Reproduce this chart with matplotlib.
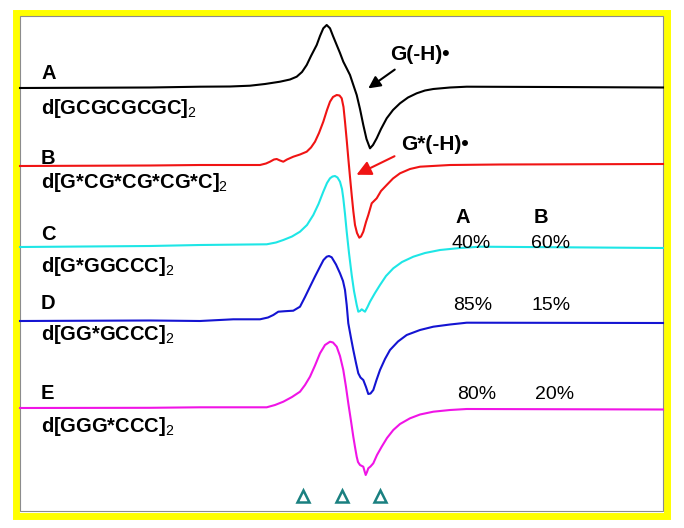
"""Stacked EPR spectra of guanine radicals in d[GC] oligomers."""

import matplotlib
matplotlib.use("Agg")
import matplotlib.pyplot as plt
from matplotlib.patches import Rectangle

plt.rcParams['font.family'] = ['Liberation Sans', 'DejaVu Sans']
plt.rcParams['mathtext.fontset'] = 'custom'
plt.rcParams['mathtext.rm'] = 'Liberation Sans'

# field positions (scan units) and first-derivative signal (up = positive)
FIELD_A = [20, 150, 200, 230, 250, 265, 280, 290, 296.7, 302, 306.7, 311, 316.7, 320,
           323.3, 326.7, 330, 333, 336.7, 340, 343.3, 346.5, 350, 353, 356.7, 360,
           363.3, 366.5, 370, 373, 376.7, 381, 386.7, 393, 400, 408, 416.7, 425,
           433.3, 450, 466.7, 550, 663]
SIGNAL_A = [0, 0.5, 1.3, 1.5, 2.3, 4, 6.3, 8.5, 11.3, 16, 23, 32, 43, 52,
            59.7, 63, 59.7, 52, 43, 35, 26.3, 20, 13, 4, -7, -21,
            -37, -51, -60.3, -57, -50.3, -41, -30.3, -22, -15.3, -9.5, -5.3, -2.5,
            -1, 0.5, 1.3, 1, 0.5]

FIELD_B = [20, 150, 200, 240, 260, 266, 270, 274, 276.7, 280, 283.3, 287, 293.3, 300,
           306.7, 311, 315, 319, 323.3, 327, 330, 333, 336.7, 339.5, 341.7, 343.5,
           345, 346.7, 348.3, 350, 351.7, 353.3, 355, 357, 359.3, 361, 363.3, 366,
           368.3, 371.7, 376.7, 381, 386.7, 393, 400, 410, 420, 450, 500, 663]
SIGNAL_B = [0, 0.5, 1, 1, 1, 2.5, 4.3, 6.5, 7, 5.5, 4.3, 6.5, 9.3, 11.5,
            14.3, 18.5, 24.3, 33, 44.3, 56, 64.3, 69, 71, 70.5, 67.7, 59,
            44.3, 26, 7.7, -11, -29, -45, -59, -67, -71.7, -70.5, -65.7, -56,
            -49, -37.3, -32.3, -25, -19, -12.5, -7.3, -3, -0.7, 1, 1.5, 2]

FIELD_C = [20, 150, 200, 266.7, 276, 283.3, 292, 300, 307, 313.3, 318.5, 323.3, 327,
           330, 332.5, 335, 337.5, 340, 342, 343.3, 345, 346.7, 349, 351.7, 354,
           356.7, 358.3, 360, 361.7, 363.3, 365, 367.5, 370, 375, 380, 386, 393.3,
           402, 413.3, 425, 440, 460, 480, 663]
SIGNAL_C = [0, 1, 2, 2.7, 4.5, 7, 10.5, 15.3, 22, 32, 43, 55.3, 64,
            68.7, 70.5, 71, 69.5, 65.3, 58, 48.7, 33, 15.3, -6, -28, -44,
            -58, -64.7, -64, -62.3, -63.5, -64.7, -60, -54.7, -46, -38, -29, -21.3,
            -15, -9.7, -6, -3, -1, 0.3, -1]

FIELD_D = [20, 150, 200, 233.3, 260, 268, 273.3, 278.3, 285, 293.3, 300, 305, 310,
           315, 320, 323.5, 326.7, 329, 331.7, 336, 340, 343, 345, 346.7, 348.3,
           351, 353.3, 356, 358.3, 360.5, 363.3, 366, 368.3, 370.5, 373.3, 376.5,
           380, 385, 390, 398, 406.7, 420, 433.3, 450, 466.7, 663]
SIGNAL_D = [0, 0.5, 0, 1.7, 1.7, 3.5, 6, 9.3, 9.8, 10.3, 14.3, 24, 34.3,
            44.5, 54.3, 61, 64.3, 65, 63.7, 56.5, 47.7, 40, 31, 16, -2.3,
            -17, -29, -42, -52.3, -56.5, -59, -66, -73, -72.5, -69, -59,
            -49, -38, -29, -20.5, -14, -9, -5.7, -3.5, -1.7, -2]

FIELD_E = [20, 150, 200, 266.7, 275, 283.3, 292, 300, 305, 310, 315, 320, 325, 330,
           333, 336.7, 340, 343.3, 346, 348.3, 351, 353.3, 355, 356.7, 358, 360,
           363.3, 364.5, 365.7, 367, 368.3, 370.5, 373.3, 377, 381.7, 387, 393.3,
           400, 410, 420, 433.3, 450, 466.7, 663]
SIGNAL_E = [0, 0.2, 0.7, 0.7, 3, 6.3, 11, 16.3, 23, 31.3, 42.5, 54.7, 63, 66.3,
            65.5, 61.3, 52, 38, 21, 4.7, -13, -28.7, -39, -48.7, -54, -57,
            -58.7, -63, -67, -64, -60.3, -58.5, -55.3, -47, -38.7, -30, -22,
            -16, -10.3, -6.5, -3.7, -2, -1, -1.5]

LETTERS = ['A', 'B', 'C', 'D', 'E']
SEQUENCES = ['d[GCGCGCGC]', 'd[G*CG*CG*CG*C]', 'd[G*GGCCC]', 'd[GG*GCCC]', 'd[GGG*CCC]']
PERCENT_A = ['40%', '85%', '80%']
PERCENT_B = ['60%', '15%', '20%']
MARKER_FIELDS = [302.7, 341.7, 380]

COLOURS = ['#000000', '#f01414', '#1ee6e6', '#1414d2', '#f014e6']
BASELINES = [88, 166, 247, 321, 408]
LETTER_Y = [79, 164, 240, 309, 399]
SEQ_Y = [114, 188.5, 271.5, 340.5, 431.5]
PCT_Y = [248, 310, 399]
FS = 14.5

fig = plt.figure(figsize=(6.84, 5.28), dpi=100)
ax = fig.add_axes([0, 0, 1, 1])
ax.set_xlim(0, 684)
ax.set_ylim(528, 0)
ax.axis('off')

# yellow frame with thin grey inner edge
ax.add_patch(Rectangle((15.5, 12.5), 651, 503, fill=False, edgecolor='#ffff00', lw=5.0))
ax.add_patch(Rectangle((19.5, 16), 643, 495, fill=False, edgecolor='#8c8c8c', lw=0.8))

traces = [(FIELD_A, SIGNAL_A), (FIELD_B, SIGNAL_B), (FIELD_C, SIGNAL_C),
          (FIELD_D, SIGNAL_D), (FIELD_E, SIGNAL_E)]
for (field, signal), base, colour in zip(traces, BASELINES, COLOURS):
    ax.plot(field, [base - s for s in signal], color=colour, lw=1.5,
            solid_joinstyle='round')

for letter, seq, ly, sy in zip(LETTERS, SEQUENCES, LETTER_Y, SEQ_Y):
    ax.text(41, ly, letter, fontsize=FS, fontweight='bold', va='baseline')
    ax.text(41, sy, seq + r'$_\mathrm{2}$', fontsize=FS, fontweight='bold',
            va='baseline')

ax.text(455, 222.7, 'A', fontsize=FS, fontweight='bold', va='baseline')
ax.text(534, 222.7, 'B', fontsize=FS, fontweight='bold', va='baseline')
for pa, pb, py, xa, xb in zip(PERCENT_A, PERCENT_B, PCT_Y, [452, 453, 457.5], [531.5, 531.5, 535]):
    ax.text(xa, py, pa, fontsize=14, va='baseline')
    ax.text(xb, py, pb, fontsize=14, va='baseline')

ax.annotate('', xy=(366, 90), xytext=(397, 68),
            arrowprops=dict(arrowstyle='-|>', color='black', lw=1.5, mutation_scale=18))
ax.text(390, 59.5, 'G(-H)\u2022', fontsize=15, fontweight='bold', va='baseline')

ax.annotate('', xy=(354, 176), xytext=(397, 155),
            arrowprops=dict(arrowstyle='-|>', color='#f01414', lw=1.5, mutation_scale=22))
ax.text(401, 150, 'G*(-H)\u2022', fontsize=15, fontweight='bold', va='baseline')

ax.plot(MARKER_FIELDS, [496] * len(MARKER_FIELDS), linestyle='none', marker='^',
        markersize=8, markerfacecolor='none', markeredgecolor='#1a8080', markeredgewidth=1.8)

fig.savefig('out.png', dpi=100)
